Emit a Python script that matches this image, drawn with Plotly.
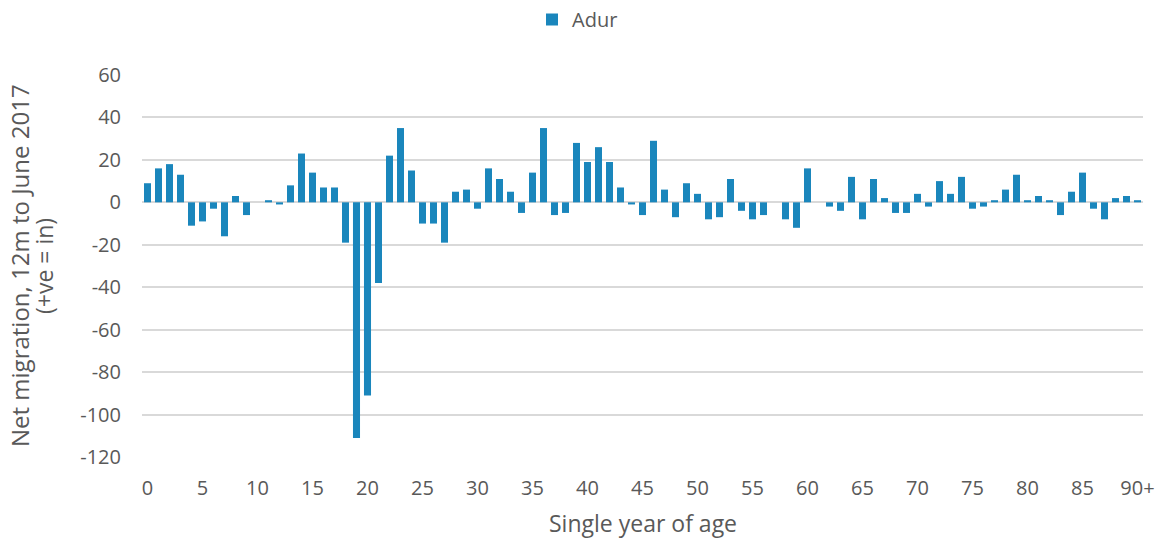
import plotly.graph_objects as go

ages = list(range(91))
values = [9, 16, 18, 13, -11, -9, -3, -16, 3, -6,
          0, 1, -1, 8, 23, 14, 7, 7, -19, -111,
          -91, -38, 22, 35, 15, -10, -10, -19, 5, 6,
          -3, 16, 11, 5, -5, 14, 35, -6, -5, 28,
          19, 26, 19, 7, -1, -6, 29, 6, -7, 9,
          4, -8, -7, 11, -4, -8, -6, 0, -8, -12,
          16, 0, -2, -4, 12, -8, 11, 2, -5, -5,
          4, -2, 10, 4, 12, -3, -2, 1, 6, 13,
          1, 3, 1, -6, 5, 14, -3, -8, 2, 3, 1]
tick_vals = list(range(0, 91, 5))
tick_text = [str(v) for v in range(0, 90, 5)] + ["90+"]
y_ticks = list(range(-120, 61, 20))
y_text = [str(v) for v in y_ticks]

fig = go.Figure()
fig.add_trace(go.Bar(x=ages, y=values, name="Adur",
                     marker=dict(color="#1A86BC", line=dict(width=0))))

font_family = "Open Sans, Noto Sans, sans-serif"
grey = "#595959"
fig.update_layout(
    width=1162, height=538,
    margin=dict(l=142, r=19, t=75, b=81),
    plot_bgcolor="white", paper_bgcolor="white",
    bargap=0.36,
    showlegend=True,
    legend=dict(orientation="h", x=0.497, xref="container", xanchor="center",
                y=1, yref="container", yanchor="top",
                font=dict(size=20, color=grey, family=font_family),
                itemwidth=30, bgcolor="rgba(0,0,0,0)"),
    font=dict(family=font_family, color=grey, size=20),
    xaxis=dict(range=[-0.5, 90.5], tickvals=tick_vals, ticktext=tick_text,
               showgrid=False, zeroline=False, showline=False, ticks="",
               automargin=False, ticklabeloverflow="allow",
               ticklabelstandoff=17,
               tickfont=dict(size=20, color=grey)),
    yaxis=dict(range=[-120, 60], tickvals=y_ticks, ticktext=y_text, showgrid=True,
               gridcolor="#D9D9D9", gridwidth=1.5, zeroline=True, zerolinecolor="#D9D9D9",
               zerolinewidth=1.5, ticks="", automargin=False, ticklabelstandoff=20,
               tickfont=dict(size=20, color=grey)),
    annotations=[
        dict(text="Single year of age", xref="paper", yref="paper", x=0.5, y=0.0,
             yshift=-66, xanchor="center", yanchor="middle", showarrow=False,
             font=dict(size=23, color=grey, family=font_family)),
        dict(text="Net migration, 12m to June 2017", xref="paper", yref="paper",
             x=0, xshift=-123, y=0.5, xanchor="center", yanchor="middle", textangle=-90,
             showarrow=False, font=dict(size=24, color=grey, family=font_family)),
        dict(text="(+ve = in)", xref="paper", yref="paper",
             x=0, xshift=-98, y=0.5, xanchor="center", yanchor="middle", textangle=-90,
             showarrow=False, font=dict(size=23, color=grey, family=font_family)),
    ],
)
fig.write_html("out.html", config={"displayModeBar": False},
               post_script="document.body.style.margin='0';document.body.style.padding='0';")
